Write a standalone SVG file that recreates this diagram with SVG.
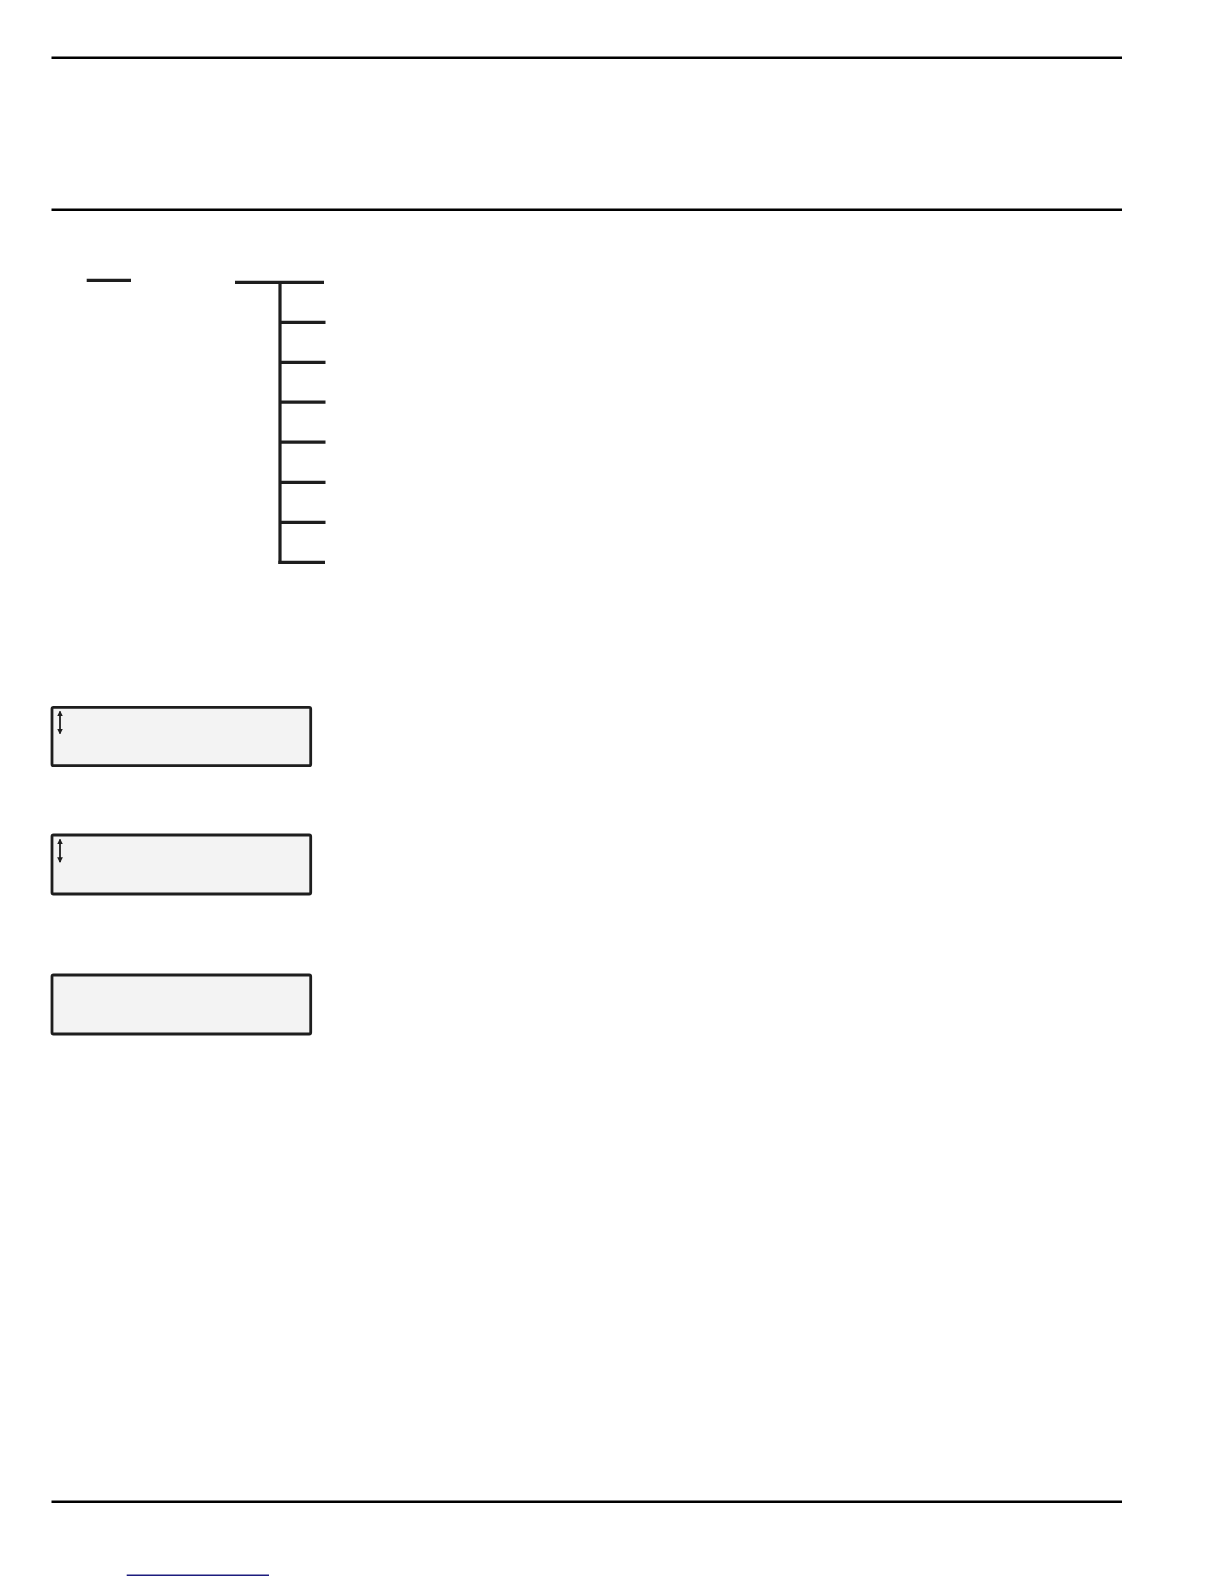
<svg xmlns="http://www.w3.org/2000/svg" width="1224" height="1584" viewBox="0 0 1224 1584">
<style>
.rule{stroke:#000;stroke-width:2.6;fill:none}
.tree{stroke:#1e1e1e;stroke-width:3.2;fill:none;stroke-linecap:butt}
.box{fill:#f3f3f3;stroke:#1e1e1e;stroke-width:2.8}
.arr{stroke:#1e1e1e;stroke-width:1.8;fill:none}
</style>
<defs>
<marker id="ah" viewBox="0 0 6 6" refX="5" refY="3" markerWidth="3.2" markerHeight="3.2" orient="auto-start-reverse">
<path d="M0,0 L6,3 L0,6 z" fill="#1e1e1e"/>
</marker>
</defs>
<rect width="1224" height="1584" fill="#fff"/>
<g id="rules">
<line class="rule" x1="51.5" y1="57.7" x2="1122" y2="57.7"/>
<line class="rule" x1="51.5" y1="209.8" x2="1122" y2="209.8"/>
<line class="rule" x1="51.5" y1="1501.8" x2="1122" y2="1501.8"/>
<line x1="126.7" y1="1575.3" x2="269" y2="1575.3" stroke="#1c1c7e" stroke-width="1.4"/>
</g>
<g id="short-line">
<line class="tree" x1="86.7" y1="280.3" x2="131" y2="280.3"/>
</g>
<g id="connectors">
<line class="tree" x1="235" y1="282.3" x2="324" y2="282.3"/>
<line class="tree" x1="280" y1="282.3" x2="280" y2="563.9"/>
<line class="tree" x1="280" y1="322.3" x2="325.5" y2="322.3"/>
<line class="tree" x1="280" y1="362.3" x2="325.5" y2="362.3"/>
<line class="tree" x1="280" y1="402.2" x2="325.5" y2="402.2" stroke-width="3.6"/>
<line class="tree" x1="280" y1="442.2" x2="325.5" y2="442.2" stroke-width="3.6"/>
<line class="tree" x1="280" y1="482.3" x2="325.5" y2="482.3"/>
<line class="tree" x1="280" y1="522.3" x2="325.5" y2="522.3"/>
<line class="tree" x1="278.4" y1="562.3" x2="325" y2="562.3"/>
</g>
<g id="box1">
<rect class="box" x="52" y="707.3" width="258.7" height="58.4" rx="1.5"/>
<line class="arr" x1="60" y1="711.5" x2="60" y2="733.5" marker-start="url(#ah)" marker-end="url(#ah)"/>
</g>
<g id="box2">
<rect class="box" x="52" y="835" width="258.7" height="59" rx="1.5"/>
<line class="arr" x1="60" y1="839.5" x2="60" y2="862" marker-start="url(#ah)" marker-end="url(#ah)"/>
</g>
<g id="box3">
<rect class="box" x="52" y="975" width="258.7" height="59" rx="1.5"/>
</g>
</svg>
